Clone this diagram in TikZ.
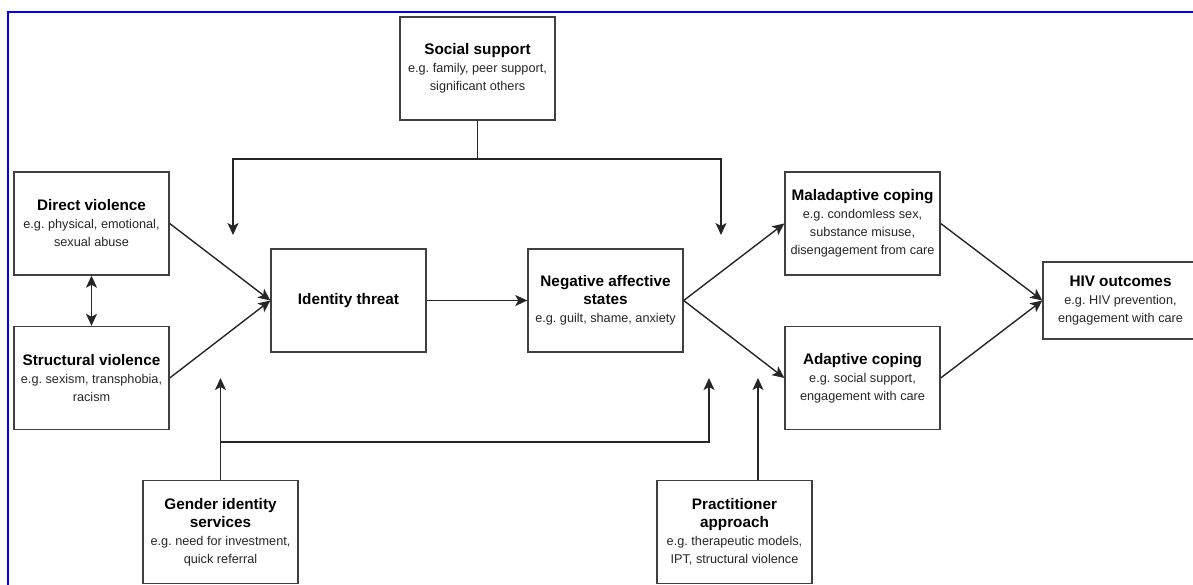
\documentclass[tikz,border=0pt]{standalone}
\usepackage{fontspec}
\setmainfont{Liberation Sans}
\usepackage{tikz}
\usetikzlibrary{arrows.meta}
\usetikzlibrary{positioning}
\frenchspacing

\tikzset{
    box/.style={draw=black!75, line width=1.4pt, minimum width=155pt, minimum height=103pt,
        align=center, inner sep=2pt, text=black!85, font=\fontsize{12.7}{18}\selectfont},
    tip/.tip={Stealth[length=12pt,width=11pt,inset=3pt]},
    flow/.style={-tip, line width=1.4pt, draw=black!85},
    frame/.style={draw=blue, line width=2pt},
}
\newcommand{\boxtitle}[1]{\textcolor{black}{\fontsize{15.3}{18}\selectfont\bfseries #1}}

\begin{document}
\begin{tikzpicture}[x=1pt,y=-1pt]
            \useasboundingbox (0,0) rectangle (1193,585);

            % Frame
            \draw[frame] (8,12) rectangle (1215,610);

            % Moderators
            \node[box] (social) at (477.5,68.5) {\boxtitle{Social support}\\e.g. family, peer support,\\significant others};
            \node[box] (gender) at (220.5,532) {\boxtitle{Gender identity}\\\boxtitle{services}\\e.g. need for investment,\\quick referral};
            \node[box] (practitioner) at (734.5,532) {\boxtitle{Practitioner}\\\boxtitle{approach}\\e.g. therapeutic models,\\IPT, structural violence};

            % Violence
            \node[box] (direct) at (91.5,223.5) {\boxtitle{Direct violence}\\e.g. physical, emotional,\\sexual abuse};
            \node[box] (structural) at (91.5,378) {\boxtitle{Structural violence}\\e.g. sexism, transphobia,\\racism};

            % Threat and affect
            \node[box] (identity) at (348.5,300.5) {\boxtitle{Identity threat}};
            \node[box] (negative) at (605.5,300.5) {\boxtitle{Negative affective}\\\boxtitle{states}\\e.g. guilt, shame, anxiety};

            % Coping
            \node[box] (maladaptive) at (862.5,223.5) {\boxtitle{Maladaptive coping}\\e.g. condomless sex,\\substance misuse,\\disengagement from care};
            \node[box] (adaptive) at (862.5,378) {\boxtitle{Adaptive coping}\\e.g. social support,\\engagement with care};

            % Outcomes
            \node[box, minimum height=77pt] (hiv) at (1120.5,300.5) {\boxtitle{HIV outcomes}\\e.g. HIV prevention,\\engagement with care};

            % Main path
            \draw[flow] (direct.east) -- (identity.west);
            \draw[flow] (structural.east) -- (identity.west);
            \draw[flow, tip-tip] (direct.south) -- (structural.north);
            \draw[flow] (identity.east) -- (negative.west);
            \draw[flow] (negative.east) -- (maladaptive.west);
            \draw[flow] (negative.east) -- (adaptive.west);
            \draw[flow] (maladaptive.east) -- (hiv.west);
            \draw[flow] (adaptive.east) -- (hiv.west);

            % Social support arrows
            \coordinate (socialjoin) at (477.5,159);
            \coordinate (socialleft) at (233,235);
            \coordinate (socialright) at (721,235);
            \draw[flow, -] (social.south) -- (socialjoin);
            \draw[flow] (socialjoin) -| (socialleft);
            \draw[flow] (socialjoin) -| (socialright);

            % Gender identity services arrows
            \coordinate (genderjoin) at (220.5,442);
            \coordinate (genderleft) at (220.5,378);
            \coordinate (genderright) at (709,378);
            \draw[flow] (gender.north) -- (genderleft);
            \draw[flow] (genderjoin) -| (genderright);

            % Practitioner approach arrow
            \coordinate (practup) at (758,378);
            \draw[flow] (practitioner.north -| practup) -- (practup);

\end{tikzpicture}
\end{document}
